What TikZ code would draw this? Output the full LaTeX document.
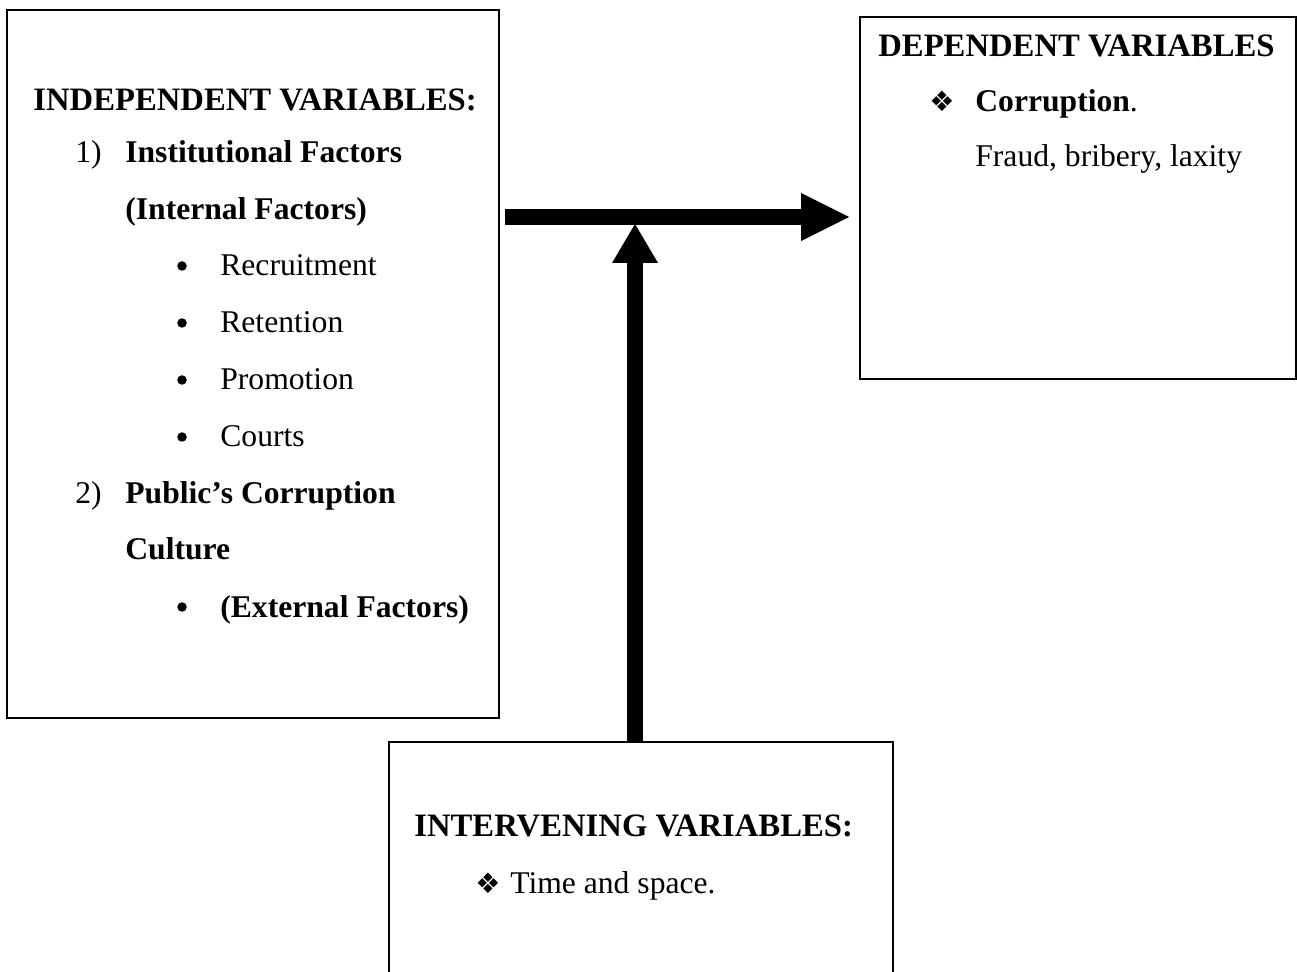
\documentclass[tikz,border=0pt]{standalone}
\usepackage{fontspec}
\setmainfont{Liberation Serif}
\newfontfamily\symfont{DejaVu Sans}
\usetikzlibrary{arrows.meta}

\tikzset{
  varbox/.style={draw, line width=1.1pt, anchor=north west, inner sep=0pt, outer sep=0pt},
  txt/.style={anchor=base west, inner sep=0pt, font=\fontsize{18}{22}\selectfont},
  btxt/.style={txt, font=\fontsize{18}{22}\selectfont\bfseries},
  title/.style={txt, font=\fontsize{18.6}{22}\selectfont\bfseries},
  dot/.style={circle, fill, inner sep=0pt, minimum size=0.19cm},
  diam/.style={anchor=base west, inner sep=0pt, font=\fontsize{16}{18}\symfont},
  harrow/.style={line width=9.1pt, -{Triangle[length=0.96cm, width=0.96cm, line width=0pt]}},
  varrow/.style={line width=9.1pt, -{Triangle[length=0.78cm, width=0.92cm, line width=0pt]}}
}

\begin{document}
\begin{tikzpicture}[x=0.02cm, y=-0.02cm]
  \useasboundingbox (0,0) rectangle (1297,972);

  % the three boxes
  \node[varbox, minimum width=9.84cm, minimum height=14.16cm] (indep) at (7,10) {};
  \node[varbox, minimum width=8.72cm, minimum height=7.24cm] (dep) at (860,17) {};
  \node[varbox, minimum width=10.08cm, minimum height=4.9cm] (inter) at (389,742) {};

  % independent variables
  \node[title] (indtitle) at (33,111) {INDEPENDENT VARIABLES:};
  \node[txt] (num1) at (75,163) {1)};
  \node[btxt] (inst) at (125,163) {Institutional Factors};
  \node[btxt] (intern) at (125,220) {(Internal Factors)};
  \foreach \t/\y [count=\i] in {Recruitment/276, Retention/333, Promotion/390, Courts/447} {
    \node[dot] (dot\i) at (182,\y-10) {};
    \node[txt] (item\i) at (220,\y) {\t};
  }
  \node[txt] (num2) at (75,503) {2)};
  \node[btxt] (pub) at (125,503) {Public’s Corruption};
  \node[btxt] (cult) at (125,560) {Culture};
  \node[dot] (dot5) at (182,607) {};
  \node[btxt] (extern) at (220,617) {(External Factors)};

  % dependent variables
  \node[title] (deptitle) at (878,57) {DEPENDENT VARIABLES};
  \node[diam] (dia1) at (929,112) {❖};
  \node[txt] (corr) at (975,112) {\textbf{Corruption}.};
  \node[txt] (fraud) at (975,167) {Fraud, bribery, laxity};

  % intervening variables
  \node[title] (inttitle) at (414,836) {INTERVENING VARIABLES:};
  \node[diam] (dia2) at (475,893) {❖};
  \node[txt] (time) at (510,893) {Time and space.};

  % arrows
  \coordinate (hline) at (0,217);
  \coordinate (vline) at (635,0);
  \draw[harrow] ([xshift=0.12cm]indep.east |- hline) -- ([xshift=-0.22cm]dep.west |- hline);
  \draw[varrow] (inter.north -| vline) -- ([yshift=-0.14cm]vline |- hline);
\end{tikzpicture}
\end{document}
